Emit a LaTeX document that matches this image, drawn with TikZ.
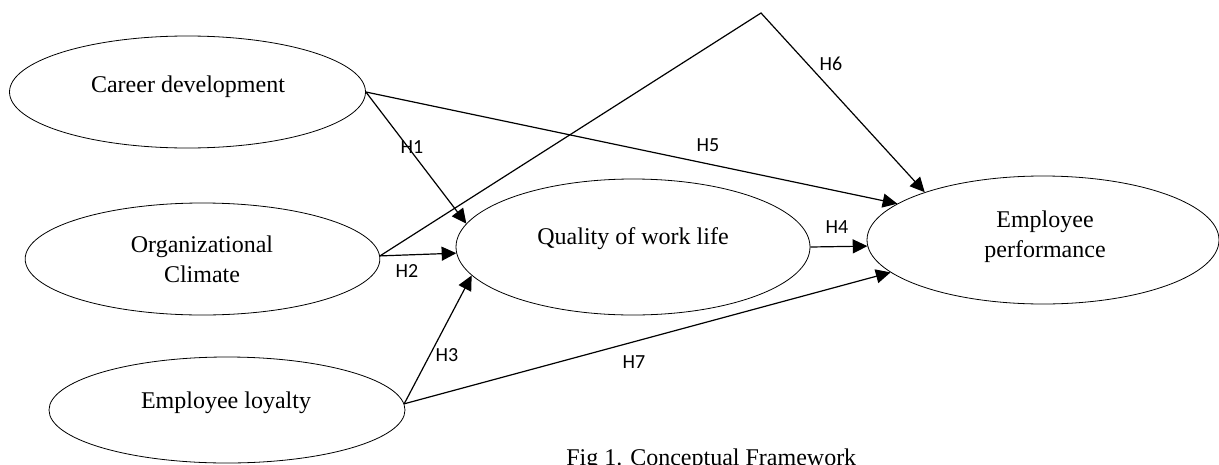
\documentclass[tikz,border=0pt]{standalone}
\usepackage{fontspec}
\setmainfont{Liberation Serif}
\newfontfamily\labfont{Carlito}
\usetikzlibrary{arrows.meta,shapes.geometric}
\begin{document}
\begin{tikzpicture}[x=0.75pt,y=-0.75pt,
  ell/.style={draw, ellipse, line width=0.6pt, inner sep=0pt},
  etext/.style={font=\fontsize{18}{22.5}\selectfont, align=center, inner sep=0pt},
  hlab/.style={font=\labfont\fontsize{15}{18}\selectfont, inner sep=0pt},
  conn/.style={line width=0.9pt, -{Triangle[length=11pt,width=10.5pt]}},
  plainline/.style={line width=0.9pt}
]
\useasboundingbox (0,0) rectangle (1219,464);
\clip (0,0) rectangle (1219,464);

% ellipses
\node[ell, minimum width=267pt, minimum height=84pt] (cd) at (187.5,92) {};
\node[ell, minimum width=266pt, minimum height=84pt] (oc) at (202.5,259) {};
\node[ell, minimum width=267pt, minimum height=79.5pt] (el) at (227,410) {};
\node[ell, minimum width=265.5pt, minimum height=102pt] (qwl) at (633,247) {};
\node[ell, minimum width=264pt, minimum height=96pt] (ep) at (1043,240) {};

% texts
\node[etext, anchor=base] (cdt) at (188,92) {Career development};
\node[etext] (oct) at (202,259) {Organizational\\Climate};
\node[etext, anchor=base] (qwlt) at (633,244) {Quality of work life};
\node[etext] (ept) at (1045,236.5) {Employee\\performance};
\node[etext, anchor=base] (elt) at (226,408) {Employee loyalty};

\coordinate (apex) at (761,13);

% connectors
\draw[conn] (cd.east) -- (qwl.172);
\draw[conn] (cd.east) -- (ep.166);
\draw[conn] (oc.1) -- (qwl.182);
\draw[conn] (oc.1) -- (apex) -- (ep.158.5);
\draw[conn] (el.2) -- (qwl.190);
\draw[conn] (el.2) -- (ep.192);
\draw[conn] (qwl.east) -- (ep.182);

% labels
\node[hlab] (h1) at (412,147) {H1};
\node[hlab] (h2) at (407,271) {H2};
\node[hlab] (h3) at (447,355) {H3};
\node[hlab] (h4) at (837,227) {H4};
\node[hlab] (h5) at (708,145) {H5};
\node[hlab] (h6) at (831,64) {H6};
\node[hlab] (h7) at (634,362) {H7};

% caption
\node[font=\fontsize{18}{22}\selectfont, anchor=base west, inner sep=0pt] (cap) at (566,465) {Fig 1. Conceptual Framework};
\end{tikzpicture}
\end{document}
